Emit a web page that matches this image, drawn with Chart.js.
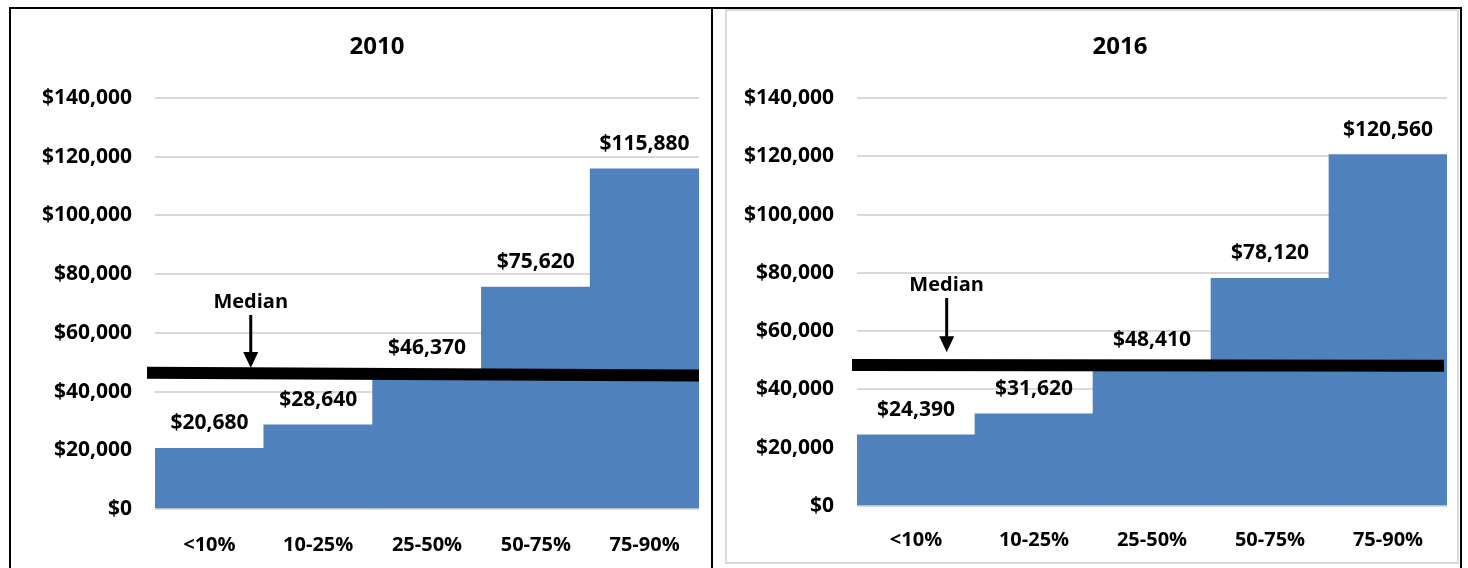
<!DOCTYPE html>
<html lang="en">
<head>
<meta charset="UTF-8">
<title>Wage percentiles 2010 vs 2016</title>
<script src="https://cdn.jsdelivr.net/npm/chart.js"></script>
<style>
body{ margin:0; background:#fff; width:1468px; height:568px; overflow:hidden; position:relative; }
#frame{ position:absolute; left:9px; top:7px; width:1453px; height:600px; border:2px solid #000; box-sizing:border-box; }
#divider{ position:absolute; left:711px; top:7px; width:2px; height:600px; background:#000; }
#panel2{ position:absolute; left:725px; top:9px; width:734px; height:555px; border:2px solid #d9d9d9; box-sizing:border-box; }
canvas{ position:absolute; }
#c2010{ left:11px; top:10px; }
#c2016{ left:727px; top:11px; }
</style>
</head>
<body>
<div id="frame"></div>
<div id="divider"></div>
<div id="panel2"></div>
<canvas id="c2010" width="700" height="558"></canvas>
<canvas id="c2016" width="730" height="552"></canvas>

<script>
// percentile bands
const categories = ["<10%", "10-25%", "25-50%", "50-75%", "75-90%"];

// wages per band
const wages2010 = [20680, 28640, 46370, 75620, 115880];
const wages2016 = [24390, 31620, 48410, 78120, 120560];

// median line (start value, end value) - slightly tilted as in the original
const median2010 = [46370, 45500];
const median2016 = [48410, 48100];

// y axis ticks
const yMin = 0, yMax = 140000, yStep = 20000;

const BLUE = "#4F81BD";
const GRID = "#d9d9d9";
const FONT = "'Open Sans'";

function money(v){ return "$" + Number(v).toLocaleString("en-US"); }

// title, value labels above bars, median line and arrow note
const overlayPlugin = {
    id: "overlay",
    afterDatasetsDraw(chart){
        const ctx = chart.ctx;
        const x = chart.scales.x, y = chart.scales.y;
        const o = chart.options.plugins.overlay;
        const area = chart.chartArea;

        ctx.save();
        ctx.fillStyle = "#000";
        ctx.textAlign = "center";
        ctx.textBaseline = "middle";

        ctx.font = "bold 24px " + FONT;
        ctx.fillText(o.title, o.titleX, o.titleY);

        ctx.font = "bold 21px " + FONT;
        const meta = chart.getDatasetMeta(0);
        meta.data.forEach((bar, i) => {
            ctx.fillText(money(chart.data.datasets[0].data[i]), bar.x, bar.y - 25);
        });

        // median bar
        ctx.strokeStyle = "#000";
        ctx.lineWidth = 12;
        ctx.lineCap = "butt";
        ctx.beginPath();
        ctx.moveTo(area.left - o.extLeft, y.getPixelForValue(o.median[0]));
        ctx.lineTo(area.right - o.extRight, y.getPixelForValue(o.median[1]));
        ctx.stroke();

        // arrow + "Median"
        const ax = x.getPixelForValue(o.arrowAt);
        const top = y.getPixelForValue(o.arrowTop);
        const tip = y.getPixelForValue(o.arrowTip);
        ctx.lineWidth = 3;
        ctx.beginPath();
        ctx.moveTo(ax, top);
        ctx.lineTo(ax, tip - 14);
        ctx.stroke();
        ctx.beginPath();
        ctx.moveTo(ax - 7.5, tip - 16);
        ctx.lineTo(ax + 7.5, tip - 16);
        ctx.lineTo(ax, tip);
        ctx.closePath();
        ctx.fill();
        ctx.font = "bold 20px " + FONT;
        ctx.fillText("Median", ax, top - 13);
        ctx.restore();
    }
};

function makeChart(id, values, cfg){
    return new Chart(document.getElementById(id), {
        type: "bar",
        data: {
            labels: categories,
            datasets: [{ data: values, backgroundColor: BLUE, borderWidth: 0,
                         categoryPercentage: 1.0, barPercentage: 1.0 }]
        },
        options: {
            responsive: false,
            animation: false,
            devicePixelRatio: 1,
            layout: { padding: { left: 0, right: cfg.padRight, top: cfg.padTop, bottom: 0 } },
            plugins: {
                legend: { display: false },
                tooltip: { enabled: false },
                title: { display: false },
                overlay: cfg.overlay
            },
            scales: {
                x: {
                    grid: { display: false },
                    border: { display: false },
                    ticks: { color: "#000", padding: cfg.xPad, font: { family: "Open Sans", size: 20, weight: "bold" } },
                    afterFit(s){ s.height = cfg.xHeight; }
                },
                y: {
                    min: yMin, max: yMax,
                    grid: { color: GRID, lineWidth: 2, drawTicks: false },
                    border: { display: false },
                    ticks: { stepSize: yStep, color: "#000", padding: 23,
                             font: { family: "Open Sans", size: 21, weight: "bold" },
                             callback: v => money(v) },
                    afterFit(s){ s.width = cfg.yWidth; }
                }
            }
        },
        plugins: [overlayPlugin]
    });
}

makeChart("c2010", wages2010, {
    yWidth: 144, padRight: 12, padTop: 88, xHeight: 59, xPad: 16,
    overlay: { title: "2010", titleX: 366, titleY: 37,
               median: median2010, extLeft: 8, extRight: 0,
               arrowAt: 0.38, arrowTop: 66100, arrowTip: 48000 }
});

makeChart("c2016", wages2016, {
    yWidth: 130, padRight: 10, padTop: 87, xHeight: 57, xPad: 14,
    overlay: { title: "2016", titleX: 393, titleY: 36,
               median: median2016, extLeft: 5, extRight: 3,
               arrowAt: 0.26, arrowTop: 71400, arrowTip: 52800 }
});
</script>
</body>
</html>
